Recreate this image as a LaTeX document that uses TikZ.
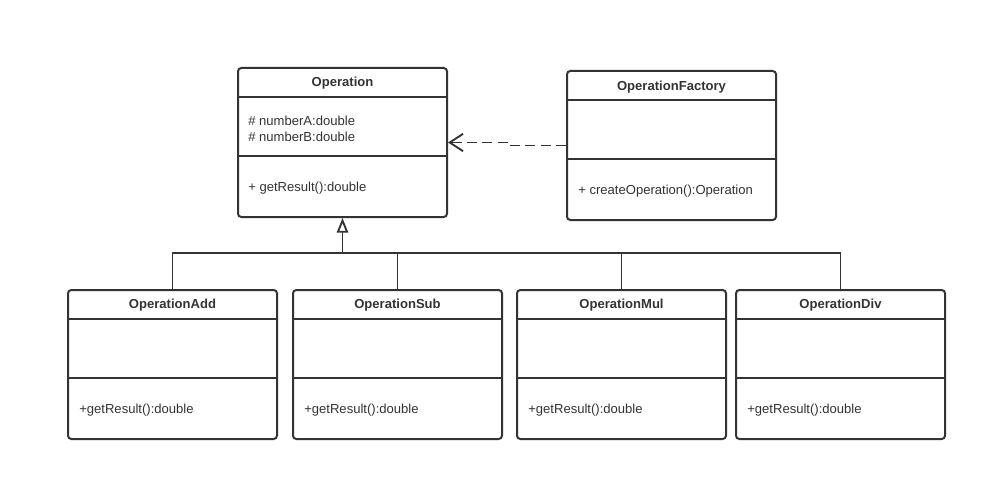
\documentclass[tikz,border=0pt]{standalone}
\usepackage{fontspec}
\setmainfont{Liberation Sans}
\usepackage{xcolor}
\usetikzlibrary{arrows.meta}
\definecolor{umlgray}{HTML}{333333}

\begin{document}
\begin{tikzpicture}[
  x=0.75pt, y=-0.75pt,
  classbox/.style={draw=umlgray,line width=1.5pt,rounded corners=2.5pt,minimum width=156.75pt,minimum height=111.75pt,inner sep=0pt},
  classname/.style={text=umlgray,font=\fontsize{9.8}{11}\selectfont\bfseries,inner sep=0pt},
  member/.style={text=umlgray,font=\fontsize{9.8}{11}\selectfont,anchor=west,inner sep=0pt},
  divider/.style={draw=umlgray,line width=1.5pt},
  conn/.style={draw=umlgray,line width=1.4pt},
  depend/.style={conn,dash pattern=on 7.5pt off 4pt,-{Straight Barb[length=10pt,width=13pt]}}
]
  \useasboundingbox (0,0) rectangle (998,492);
  % class boxes
  \node[classbox] (op) at (342.5,142.5) {};
  \node[classbox] (fac) at (671.5,145.5) {};
  \node[classbox] (add) at (172.5,364.5) {};
  \node[classbox] (sub) at (397.5,364.5) {};
  \node[classbox] (mul) at (621.5,364.5) {};
  \node[classbox] (div) at (840.5,364.5) {};
  \foreach \c in {op,fac,add,sub,mul,div} {
    \draw[divider] ([yshift=-22.5pt]\c.north west) -- ([yshift=-22.5pt]\c.north east);
    \draw[divider] ([yshift=-67pt]\c.north west) -- ([yshift=-67pt]\c.north east);
  }
  % names
  \node[classname] (opname) at (342.5,83.5) {Operation};
  \node[classname] (facname) at (671.5,87.5) {OperationFactory};
  \node[classname] (addname) at (172.5,305.5) {OperationAdd};
  \node[classname] (subname) at (397.5,305.5) {OperationSub};
  \node[classname] (mulname) at (621.5,305.5) {OperationMul};
  \node[classname] (divname) at (840.5,305.5) {OperationDiv};
  % members
  \node[member] (opa) at (248,120.5) {\# numberA:double};
  \node[member] (opb) at (248,136.5) {\# numberB:double};
  \node[member] (opm) at (248,188.5) {+ getResult():double};
  \node[member] (facm) at (578,191.5) {+ createOperation():Operation};
  \node[member] (addm) at (79,410.5) {+getResult():double};
  \node[member] (subm) at (304,410.5) {+getResult():double};
  \node[member] (mulm) at (528,410.5) {+getResult():double};
  \node[member] (divm) at (747,410.5) {+getResult():double};
  % inheritance
  \coordinate (bus) at (342.5,253);
  \draw[conn] (add.north) |- (bus);
  \draw[conn] (sub.north) |- (bus);
  \draw[conn] (mul.north) |- (bus);
  \draw[conn] (div.north) |- (bus);
  \draw[conn,-{Triangle[open,length=11pt,width=8.5pt]}] (bus) -- (op.south);
  % dependency
  \coordinate (jog1) at (508,145.5);
  \coordinate (jog2) at (508,142.5);
  \draw[depend] (fac.west) -- (jog1) -- (jog2) -- (op.east);
\end{tikzpicture}
\end{document}
